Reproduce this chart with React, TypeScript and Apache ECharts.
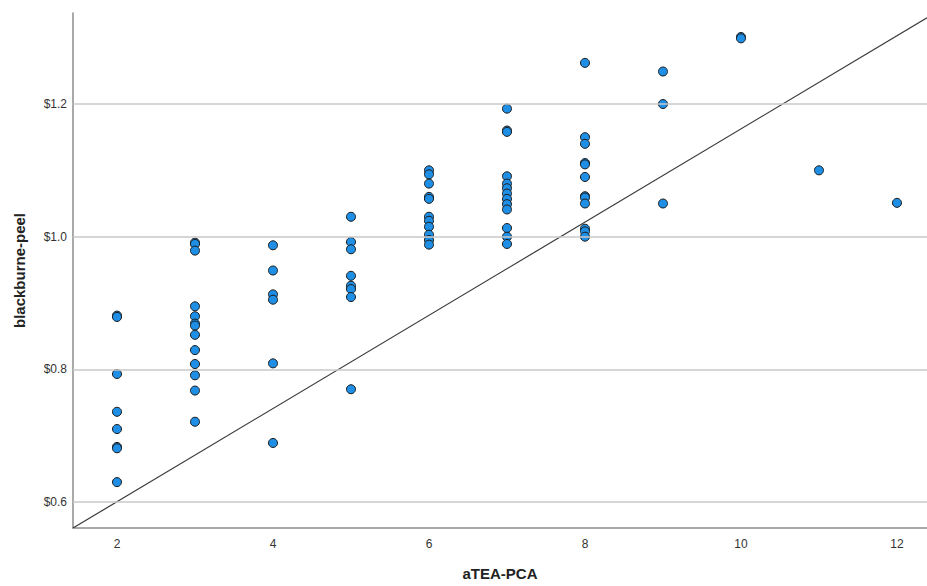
import React, { useEffect, useRef } from "react";
import * as echarts from "echarts";

// aTEA-PCA values (x) and blackburne-peel values (y)
const xs2 = [2, 2, 2, 2, 2, 2, 2, 2];
const ys2 = [0.881, 0.879, 0.793, 0.736, 0.71, 0.683, 0.681, 0.63];
const ys3 = [0.991, 0.989, 0.979, 0.895, 0.88, 0.869, 0.866, 0.852, 0.829, 0.808, 0.791, 0.768, 0.721];
const ys4 = [0.987, 0.949, 0.913, 0.905, 0.809, 0.689];
const ys5 = [1.03, 0.992, 0.981, 0.941, 0.926, 0.921, 0.909, 0.77];
const ys6 = [1.1, 1.094, 1.08, 1.06, 1.057, 1.03, 1.024, 1.015, 1.003, 0.995, 0.988];
const ys7 = [1.193, 1.16, 1.158, 1.091, 1.08, 1.073, 1.065, 1.057, 1.049, 1.041, 1.013, 1.0, 0.989];
const ys8 = [1.262, 1.15, 1.14, 1.111, 1.109, 1.09, 1.061, 1.059, 1.05, 1.012, 1.008, 1.0];
const ys9 = [1.249, 1.2, 1.05];
const ys10 = [1.301, 1.299];
const ys11 = [1.1];
const ys12 = [1.051];

const groups: [number, number[]][] = [
  [2, ys2],
  [3, ys3],
  [4, ys4],
  [5, ys5],
  [6, ys6],
  [7, ys7],
  [8, ys8],
  [9, ys9],
  [10, ys10],
  [11, ys11],
  [12, ys12],
];

const xTicks = [2, 4, 6, 8, 10, 12];
const yTicks = [0.6, 0.8, 1.0, 1.2];
const xRange = [1.436, 12.385];
const yRange = [0.5608, 1.3372];
// reference line endpoints
const refLine = [
  [1.436, 0.5608],
  [12.385, 1.33],
];

const FONT = "'Liberation Sans', Arial, sans-serif";

export default function App() {
  const ref = useRef<HTMLDivElement>(null);
  useEffect(() => {
    if (!ref.current) return;
    const chart = echarts.init(ref.current, undefined, { renderer: "svg" });
    const points: number[][] = [];
    groups.forEach(([x, ys]) => ys.forEach((y) => points.push([x, y])));
    void xs2;
    chart.setOption({
      animation: false,
      backgroundColor: "#ffffff",
      grid: { left: 73, right: 0, top: 13, bottom: 58, containLabel: false },
      xAxis: {
        type: "value",
        min: xRange[0],
        max: xRange[1],
        name: "aTEA-PCA",
        nameLocation: "middle",
        nameGap: 38,
        nameTextStyle: { fontFamily: FONT, fontSize: 15, fontWeight: "bold", color: "#222" },
        axisLine: { show: true, lineStyle: { color: "#8c8c8c", width: 1.5 } },
        axisTick: { show: false },
        splitLine: { show: false },
        axisLabel: {
          customValues: xTicks,
          margin: 10,
          fontFamily: FONT,
          fontSize: 12,
          color: "#333",
          formatter: (v: number) => String(v),
        },
      },
      yAxis: {
        type: "value",
        min: yRange[0],
        max: yRange[1],
        name: "blackburne-peel",
        nameLocation: "middle",
        nameGap: 46,
        nameTextStyle: { fontFamily: FONT, fontSize: 15, fontWeight: "bold", color: "#222" },
        axisLine: { show: true, lineStyle: { color: "#8c8c8c", width: 1.5 } },
        axisTick: { show: false },
        splitLine: { show: false },
        axisLabel: {
          customValues: yTicks,
          margin: 6,
          fontFamily: FONT,
          fontSize: 12,
          color: "#333",
          formatter: (v: number) => "$" + v.toFixed(1),
        },
      },
      series: [
        {
          type: "line",
          data: [],
          silent: true,
          z: 1,
          markLine: {
            silent: true,
            symbol: "none",
            label: { show: false },
            lineStyle: { color: "#c9c9c9", width: 1.5, type: "solid" },
            data: yTicks.map((v) => ({ yAxis: v })),
          },
        },
        {
          type: "line",
          data: refLine,
          symbol: "none",
          silent: true,
          z: 2,
          lineStyle: { color: "#3a3a3a", width: 1.2 },
        },
        {
          type: "scatter",
          data: points,
          symbol: "circle",
          symbolSize: 9,
          z: 3,
          itemStyle: { color: "#1f8fe6", borderColor: "#1a1a1a", borderWidth: 1, opacity: 1 },
        },
      ],
    });
    return () => chart.dispose();
  }, []);
  return <div ref={ref} style={{ width: 927, height: 586, position: "absolute", left: 0, top: 0 }} />;
}
